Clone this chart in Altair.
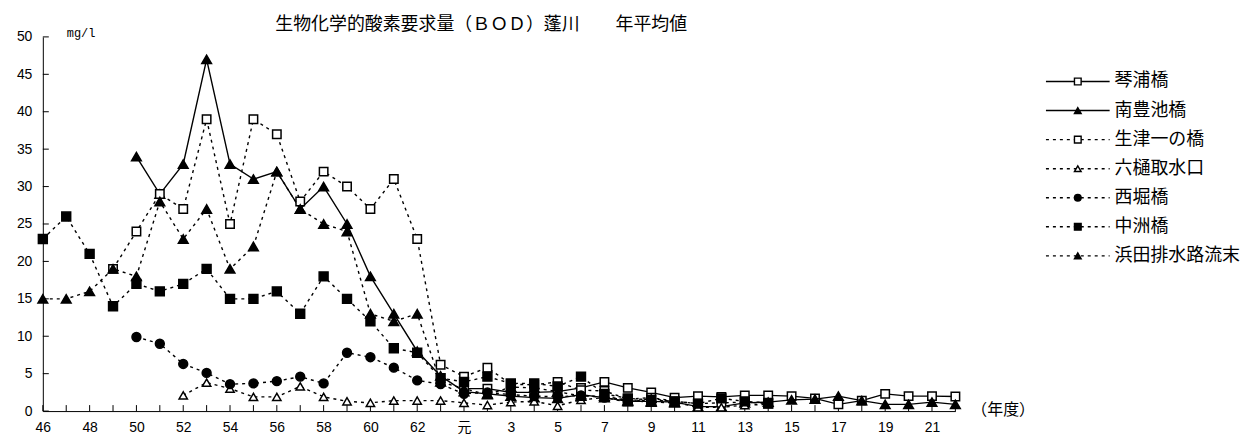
import altair as alt
import pandas as pd

N = None

# categories (年度): 昭和46-63, 平成元-22
categories = ["46", "47", "48", "49", "50", "51", "52", "53", "54", "55",
              "56", "57", "58", "59", "60", "61", "62", "63", "元", "2",
              "3", "4", "5", "6", "7", "8", "9", "10", "11", "12",
              "13", "14", "15", "16", "17", "18", "19", "20", "21", "22"]

series_names = ["琴浦橋", "南豊池橋", "生津一の橋", "六樋取水口", "西堀橋", "中洲橋", "浜田排水路流末"]

kotoura = [N] * 18 + [3.0, 3.0, 2.5, 2.5, 2.6, 3.1, 3.9, 3.1, 2.5, 1.8,
                      2.0, 1.9, 2.1, 2.1, 2.0, 1.7, 0.9, 1.4, 2.3, 2.0, 2.0, 1.95]
minamitoyoike = [N] * 4 + [34, 29, 33, 47, 33, 31, 32, 27, 30, 25, 18, 13, 8, 4.7,
                           2.6, 2.3, 2.0, 1.8, 1.7, 2.2, 1.8, 1.3, 1.3, 1.2, 0.6, 0.6,
                           1.1, 1.2, 1.5, 1.6, 2.0, 1.4, 0.9, 0.9, 1.2, 0.9]
namazu = [N] * 3 + [19, 24, 29, 27, 39, 25, 39, 37, 28, 32, 30, 27, 31, 23, 6.2,
                    4.6, 5.8, 3.6, 3.5, 3.9, 2.8, 2.7, 1.6, 1.8, 1.3, 1.0, 1.1, 1.2, 1.0] + [N] * 8
mutoi = [N] * 6 + [2.1, 3.8, 3.0, 1.9, 1.9, 3.3, 1.9, 1.3, 1.1, 1.4, 1.4, 1.4,
                   1.1, 0.8, 1.2, 1.3, 0.7, 1.5, 1.8, 1.2, 1.7, 1.2, 0.5, 0.5, 0.8, 0.9] + [N] * 8
nishibori = [N] * 4 + [9.9, 9.0, 6.3, 5.1, 3.6, 3.7, 4.0, 4.6, 3.7, 7.8, 7.2, 5.8, 4.1, 3.6,
                       2.3, 2.5, 2.2, 2.0, 1.9, 2.1, 1.8, 1.5, 1.4] + [N] * 13
nakasu = [23, 26, 21, 14, 17, 16, 17, 19, 15, 15, 16, 13, 18, 15, 12, 8.4, 7.8, 4.4,
          3.9, 4.6, 3.7, 3.7, 3.3, 4.6, 2.3, 1.7, 1.5, 1.3, 1.0, 1.7, 1.3, 1.1] + [N] * 8
hamada = [15, 15, 16, 19, 18, 28, 23, 27, 19, 22, 32, 27, 25, 24, 13, 12, 13, 3.9,
          3.0, 2.2, 3.2, 3.1, 2.6, 2.0, 2.0, 1.4, 1.2, 1.1] + [N] * 12

y_ticks = [0, 5, 10, 15, 20, 25, 30, 35, 40, 45, 50]

series_values = [kotoura, minamitoyoike, namazu, mutoi, nishibori, nakasu, hamada]
dotted = [False, False, True, True, True, True, True]
shapes = ["square", "triangle-up", "square", "triangle-up", "circle", "square", "triangle-up"]
fills = ["white", "black", "white", "white", "black", "black", "black"]
sizes = [72, 95, 72, 70, 80, 80, 95]

rows = []
for name, vals in zip(series_names, series_values):
    for c, v in zip(categories, vals):
        if v is not None:
            rows.append({"series": name, "cat": c, "val": v})
df = pd.DataFrame(rows)

W, H = 917, 376
LATIN = "Liberation Sans, Noto Sans CJK JP"
CJK = "Noto Sans CJK JP"

cat_list = "[" + ",".join("'" + c + "'" for c in categories) + "]"
x_enc = alt.X("cat:O", sort=categories,
              scale=alt.Scale(type="point", padding=0),
              axis=alt.Axis(title=None, ticks=False, grid=False, labelAngle=0,
                            labelOverlap=False, labelFont=LATIN, labelFontSize=14,
                            labelColor="black", labelPadding=10, domainColor="black",
                            labelExpr="indexof(" + cat_list + ", datum.value) % 2 == 0 ? datum.value : ''"))
y_enc = alt.Y("val:Q", scale=alt.Scale(domain=[0, 50], nice=False),
              axis=alt.Axis(title=None, ticks=False, grid=False, values=y_ticks,
                            labelOverlap=False, tickCount=11,
                            labelFont=LATIN, labelFontSize=14, labelColor="black",
                            labelPadding=11, domainColor="black",
                            minExtent=30, maxExtent=30))

# inside tick marks
xtick_df = pd.DataFrame({"cat": categories})
xticks = alt.Chart(xtick_df).mark_rule(color="black", strokeWidth=1).encode(
    x=x_enc, y=alt.value(H), y2=alt.value(H - 6))
ytick_df = pd.DataFrame({"val": y_ticks})
yticks = alt.Chart(ytick_df).mark_rule(color="black", strokeWidth=1).encode(
    y=y_enc, x=alt.value(0), x2=alt.value(6))

layers = []
for name, dot, shp, fl, sz in zip(series_names, dotted, shapes, fills, sizes):
    base = alt.Chart(df).transform_filter(alt.datum.series == name)
    if dot:
        line = base.mark_line(color="black", strokeWidth=1.4, strokeDash=[3, 4])
    else:
        line = base.mark_line(color="black", strokeWidth=1.4)
    pts = base.mark_point(shape=shp, filled=True, fill=fl, stroke="black",
                          strokeWidth=1.5, size=sz, opacity=1)
    layers.append(line.encode(x=x_enc, y=y_enc))
    layers.append(pts.encode(x=x_enc, y=y_enc))

unit_df = pd.DataFrame({"t": ["mg/l"]})
unit = alt.Chart(unit_df).mark_text(align="left", baseline="middle", fontSize=12,
                                    font="Liberation Mono", color="black").encode(
    text="t:N", x=alt.value(24), y=alt.value(-4))

main = alt.layer(xticks, yticks, unit, *layers).properties(
    width=W, height=H,
    title=alt.TitleParams("生物化学的酸素要求量（ＢＯＤ）蓬川　　年平均値",
                          font=CJK, fontSize=18, fontWeight="normal", color="black",
                          anchor="middle", frame="group", dx=-18, offset=-7))

# legend panel (its own row scale)
leg_df = pd.DataFrame({"series": series_names, "row": list(range(len(series_names)))})
dash_range = [[1, 0] if not d else [3, 4] for d in dotted]
ly = alt.Y("row:Q", scale=alt.Scale(domain=[-1.535, 11.342], reverse=True, nice=False, zero=False),
           axis=None)
leg_lines = alt.Chart(leg_df).mark_rule(color="black", strokeWidth=1.4).encode(
    y=ly, x=alt.value(62), x2=alt.value(126),
    strokeDash=alt.StrokeDash("series:N", sort=series_names,
                              scale=alt.Scale(domain=series_names, range=dash_range),
                              legend=None))
leg_pts = alt.Chart(leg_df).mark_point(filled=True, stroke="black", strokeWidth=1.4,
                                       size=45, opacity=1).encode(
    y=ly, x=alt.value(94),
    shape=alt.Shape("series:N", scale=alt.Scale(domain=series_names, range=shapes), legend=None),
    fill=alt.Fill("series:N", scale=alt.Scale(domain=series_names, range=fills), legend=None))
leg_text = alt.Chart(leg_df).mark_text(align="left", baseline="middle", fontSize=18,
                                       font=CJK, color="black").encode(
    y=ly, x=alt.value(131), text="series:N")
nendo_df = pd.DataFrame({"t": ["（年度）"]})
nendo = alt.Chart(nendo_df).mark_text(align="left", baseline="middle", fontSize=16,
                                      font=CJK, color="black").encode(
    text="t:N", x=alt.value(-13), y=alt.value(375))

legend = alt.layer(leg_lines, leg_pts, leg_text, nendo).properties(width=258, height=376)

chart = alt.hconcat(main, legend, spacing=8).properties(
    padding={"left": 5, "top": 7, "right": 0, "bottom": 0}
).configure_view(stroke=None).configure_concat(spacing=8)

chart.save("out.html", embed_options={"renderer": "svg", "actions": False})
